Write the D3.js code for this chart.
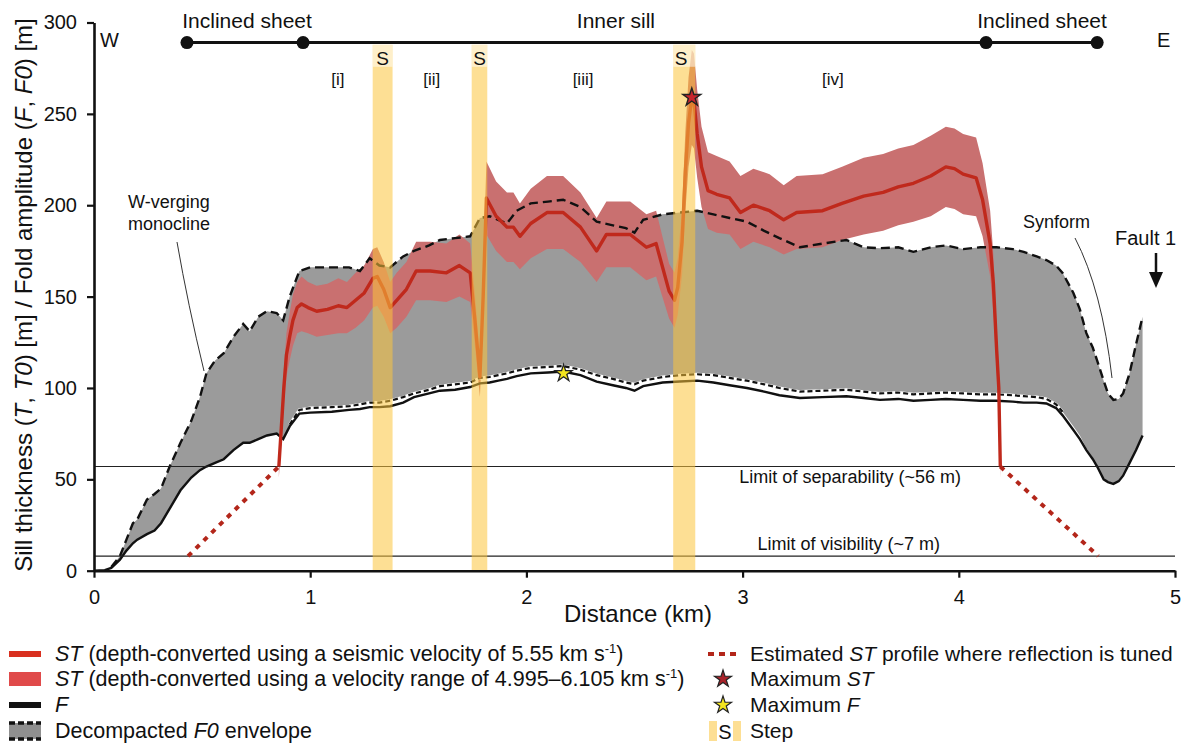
<!DOCTYPE html>
<html>
<head>
<meta charset="utf-8">
<script src="https://cdn.jsdelivr.net/npm/d3@7"></script>
<style>
  body { margin: 0; background: #fff; }
  svg text { font-family: "Liberation Sans", Arial, sans-serif; fill: #111; }
</style>
</head>
<body>
<svg id="chart" width="1184" height="745"></svg>
<script>
// ---- data (distance in km, thickness / amplitude in m) ----
const distF = [0, 0.05, 0.08, 0.12, 0.15, 0.18, 0.20, 0.245, 0.28, 0.31, 0.35, 0.40, 0.45, 0.49, 0.52, 0.56, 0.60, 0.645, 0.69, 0.72,
  0.76, 0.80, 0.845, 0.875, 0.905, 0.95, 1.00, 1.10, 1.18, 1.23, 1.275, 1.32, 1.37, 1.43, 1.48, 1.55, 1.60, 1.67, 1.74, 1.785,
  1.83, 1.87, 1.91, 1.955, 2.02, 2.10, 2.17, 2.25, 2.325, 2.40, 2.46, 2.50, 2.54, 2.63, 2.71, 2.79, 2.865, 2.94, 3.02, 3.10,
  3.17, 3.265, 3.37, 3.48, 3.56, 3.635, 3.72, 3.79, 3.87, 3.94, 4.02, 4.10, 4.175, 4.25, 4.30, 4.36, 4.405, 4.45, 4.48, 4.53,
  4.56, 4.59, 4.62, 4.64, 4.67, 4.69, 4.715, 4.74, 4.76, 4.79, 4.82, 4.85];
const f0Upper = [0, 0.5, 2, 8, 17, 26, 28, 39, 42, 45, 57, 70, 82, 95, 108, 115, 119, 128, 135, 131,
  139, 142, 141, 137, 150, 164, 166, 166, 166, 164, 171, 167, 166, 172, 175, 178, 181, 182, 183, 193,
  194, 192, 190, 197, 201, 202, 203, 199, 191, 189, 187.5, 185, 192, 195, 196, 197, 195, 193, 191, 186,
  182, 177, 179, 181, 177, 176.5, 177, 174.5, 177, 178, 176, 177, 177, 176, 174.5, 172, 170, 167, 163, 152,
  143, 130, 122, 115, 104, 97, 93.5, 94, 97, 108, 124, 139];
const f0Lower = [0, 0.3, 1.5, 6, 11, 15, 17, 20, 22, 26, 34, 44, 51, 55, 57, 59, 61, 66, 70, 70,
  72, 74, 75, 72, 80, 88, 89, 89.5, 90, 91, 92, 92, 93, 95, 97, 99, 101, 102, 103, 105.5,
  106, 107, 108, 109.5, 111, 111.5, 112, 110, 107, 105, 103, 102, 104, 106, 107, 107.5, 107, 105.5, 104, 102,
  100, 98, 98.5, 99, 98, 97, 97.5, 96.5, 97, 97.5, 97, 96.5, 96.5, 96, 95.5, 95, 94, 91, 87, 79,
  74, 67, 62, 58, 51, 49, 48, 49, 52, 59, 66, 74];
const fAmp = [0, 0.3, 1.5, 6, 11, 15, 17, 20, 22, 26, 34, 44, 51, 55, 57, 59, 61, 66, 70, 70,
  72, 74, 75, 72, 79, 86, 86.5, 87, 88, 88.5, 89.5, 89.5, 90, 92, 95, 97, 98.5, 99, 100.5, 102.5,
  103, 104, 105, 106.5, 108, 108.5, 109, 107, 103.5, 101.5, 100, 98.5, 101, 103, 103.5, 104, 103, 101.5, 100, 98,
  96, 94.5, 95, 95.5, 94.5, 93.5, 94, 93, 93.5, 94, 93.5, 93, 93, 92.5, 92, 92, 91.5, 89, 85, 77,
  72, 66, 61, 57, 50, 48.5, 47.5, 49, 52, 59, 66, 74];

const distST = [0.855, 0.862, 0.870, 0.878, 0.890, 0.905, 0.920, 0.940, 0.960, 0.990, 1.030, 1.080, 1.130, 1.170, 1.210, 1.250,
  1.290, 1.310, 1.340, 1.370, 1.400, 1.445, 1.490, 1.555, 1.630, 1.690, 1.740, 1.762, 1.785, 1.800, 1.815, 1.860,
  1.910, 1.940, 1.970, 2.020, 2.095, 2.170, 2.250, 2.325, 2.370, 2.480, 2.555, 2.600, 2.660, 2.685, 2.700, 2.720,
  2.735, 2.750, 2.765, 2.775, 2.790, 2.810, 2.840, 2.880, 2.940, 2.990, 3.050, 3.125, 3.190, 3.250, 3.370, 3.460,
  3.560, 3.650, 3.720, 3.790, 3.870, 3.940, 3.980, 4.020, 4.080, 4.110, 4.145, 4.160, 4.175, 4.185, 4.192];
const stMid = [57, 70, 85, 100, 118, 128, 137, 144, 146, 144, 142, 143, 145, 144, 148, 152,
  160, 161, 154, 144, 148, 154, 164, 164, 163, 167, 163, 137, 106, 150, 204, 194,
  188, 188, 183, 190, 196, 196, 188, 175, 184, 184, 177, 179, 153, 148, 155, 180,
  218, 245, 259, 257, 239, 221, 208, 206, 204, 196, 200, 197, 192, 196, 197, 201,
  205, 207, 210, 212, 216, 221, 220, 217, 215, 203, 179, 157, 121, 100, 57];
const stLow = [51, 63, 76, 90, 106, 115, 123, 130, 131, 130, 128, 129, 130, 130, 133, 137,
  144, 145, 139, 130, 133, 139, 148, 148, 147, 150, 147, 123, 95, 135, 184, 175,
  169, 169, 165, 171, 176, 176, 169, 158, 166, 166, 159, 161, 138, 133, 140, 162,
  196, 221, 233, 231, 215, 199, 187, 185, 184, 176, 180, 177, 173, 176, 177, 181,
  184, 186, 189, 191, 194, 199, 198, 195, 194, 183, 161, 141, 109, 90, 51];
const stHigh = [63, 77, 94, 110, 130, 141, 151, 158, 161, 158, 156, 157, 160, 158, 163, 167,
  176, 177, 169, 158, 163, 169, 180, 180, 179, 184, 179, 151, 117, 165, 224, 213,
  207, 207, 201, 209, 216, 216, 207, 193, 202, 202, 195, 197, 168, 163, 171, 198,
  240, 270, 285, 283, 263, 243, 229, 227, 224, 216, 220, 217, 211, 216, 217, 221,
  226, 228, 231, 233, 238, 243, 242, 239, 237, 223, 197, 173, 133, 110, 63];

const tunedWest = [[0.435, 8], [0.855, 57]];
const tunedEast = [[4.192, 57], [4.645, 8]];
const stepStart = [1.289, 1.747, 2.679];
const stepEnd = [1.381, 1.819, 2.781];
const segmentLabels = ["[i]", "[ii]", "[iii]", "[iv]"];
const segmentX = [1.128, 1.562, 2.262, 3.418];
const sheetNodes = [0.43, 0.967, 4.126, 4.64];
const sheetLabels = ["Inclined sheet", "Inner sill", "Inclined sheet"];
const sheetLabelX = [0.708, 2.414, 4.385];
const limitSeparability = 57;
const limitVisibility = 8;
const maxST = [2.765, 259];
const maxF = [2.172, 108];
const xTicks = [0, 1, 2, 3, 4, 5];
const yTicks = [0, 50, 100, 150, 200, 250, 300];

const svg = d3.select("#chart");
svg.append("rect").attr("width", 1184).attr("height", 745).attr("fill", "#fff");

const x = d3.scaleLinear().domain([0, 5]).range([94, 1175]);
const y = d3.scaleLinear().domain([0, 300]).range([570.7, 22.5]);

const red = "#c0291c";
const idxF = distF.map((d, i) => i);
const idxST = distST.map((d, i) => i);

// F0 envelope (gray)
svg.append("path")
  .datum(idxF)
  .attr("fill", "#9b9b9b")
  .attr("d", d3.area()
    .x((i) => x(distF[i]))
    .y0((i) => y(f0Lower[i]))
    .y1((i) => y(f0Upper[i])));

// ST velocity range
svg.append("path")
  .datum(idxST)
  .attr("fill", "#c97070")
  .attr("d", d3.area()
    .x((i) => x(distST[i]))
    .y0((i) => y(stLow[i]))
    .y1((i) => y(stHigh[i])));

// upper F0 dashed
svg.append("path")
  .datum(idxF.filter((i) => distF[i] >= 0.08))
  .attr("fill", "none")
  .attr("stroke", "#111")
  .attr("stroke-width", 2.4)
  .attr("stroke-dasharray", "9,5")
  .attr("d", d3.line().x((i) => x(distF[i])).y((i) => y(f0Upper[i])));

// lower F0 dashed (white backed)
const lowerIdx = idxF.filter((i) => distF[i] >= 0.88 && distF[i] <= 4.48);
const lowerLine = d3.line().x((i) => x(distF[i])).y((i) => y(f0Lower[i]));
svg.append("path").datum(lowerIdx).attr("fill", "none")
  .attr("stroke", "#fff").attr("stroke-width", 3).attr("d", lowerLine);
svg.append("path").datum(lowerIdx).attr("fill", "none")
  .attr("stroke", "#111").attr("stroke-width", 2.2)
  .attr("stroke-dasharray", "5,3").attr("d", lowerLine);

// F
svg.append("path")
  .datum(idxF)
  .attr("fill", "none")
  .attr("stroke", "#111")
  .attr("stroke-width", 2.4)
  .attr("d", d3.line().x((i) => x(distF[i])).y((i) => y(fAmp[i])));

// limit lines
[limitSeparability, limitVisibility].forEach((v) => {
  svg.append("line")
    .attr("x1", x(0)).attr("x2", x(5))
    .attr("y1", y(v)).attr("y2", y(v))
    .attr("stroke", "#222").attr("stroke-width", 1.1);
});
svg.append("text").attr("x", x(4.01)).attr("y", y(48))
  .attr("text-anchor", "end").attr("font-size", 18).attr("fill", "#222")
  .text("Limit of separability (~56 m)");
svg.append("text").attr("x", x(3.913)).attr("y", y(11.3))
  .attr("text-anchor", "end").attr("font-size", 18).attr("fill", "#222")
  .text("Limit of visibility (~7 m)");

// ST line
svg.append("path")
  .datum(idxST)
  .attr("fill", "none")
  .attr("stroke", red)
  .attr("stroke-width", 3.4)
  .attr("stroke-linejoin", "round")
  .attr("d", d3.line().x((i) => x(distST[i])).y((i) => y(stMid[i])));

// tuned estimates
[tunedWest, tunedEast].forEach((seg) => {
  svg.append("path")
    .datum(seg)
    .attr("fill", "none")
    .attr("stroke", "#b3261a")
    .attr("stroke-width", 4)
    .attr("stroke-dasharray", "5,6")
    .attr("d", d3.line().x((d) => x(d[0])).y((d) => y(d[1])));
});

// steps
stepStart.forEach((s, k) => {
  svg.append("rect")
    .attr("x", x(s)).attr("width", x(stepEnd[k]) - x(s))
    .attr("y", y(287.8)).attr("height", y(0) - y(287.8))
    .attr("fill", "rgb(252,196,60)").attr("fill-opacity", 0.55);
  svg.append("rect")
    .attr("x", x(s)).attr("width", x(stepEnd[k]) - x(s))
    .attr("y", y(287.8)).attr("height", 22)
    .attr("fill", "#fff").attr("fill-opacity", 0.5);
  svg.append("text")
    .attr("x", k === 2 ? x(s) + 8 : (x(s) + x(stepEnd[k])) / 2)
    .attr("y", y(276.5))
    .attr("text-anchor", "middle")
    .attr("font-size", 19)
    .text("S");
});

// stars
const star = d3.symbol().type(d3.symbolStar);
svg.append("path").attr("d", star.size(100)())
  .attr("transform", `translate(${x(maxST[0])},${y(maxST[1])})`)
  .attr("fill", "#c8232c").attr("stroke", "#222").attr("stroke-width", 1.4);
svg.append("path").attr("d", star.size(90)())
  .attr("transform", `translate(${x(maxF[0])},${y(maxF[1])})`)
  .attr("fill", "#f4e51e").attr("stroke", "#222").attr("stroke-width", 1.3);

// top sheet bar
svg.append("line")
  .attr("x1", x(sheetNodes[0])).attr("x2", x(sheetNodes[3]))
  .attr("y1", y(289)).attr("y2", y(289))
  .attr("stroke", "#111").attr("stroke-width", 3);
svg.selectAll(".node").data(sheetNodes).enter().append("circle")
  .attr("cx", (d) => x(d)).attr("cy", y(289)).attr("r", 6.5).attr("fill", "#111");
svg.selectAll(".sheetLabel").data(sheetLabels).enter().append("text")
  .attr("x", (d, i) => x(sheetLabelX[i])).attr("y", 28)
  .attr("text-anchor", "middle").attr("font-size", 21)
  .text((d) => d);
svg.selectAll(".seg").data(segmentLabels).enter().append("text")
  .attr("x", (d, i) => x(segmentX[i])).attr("y", 85)
  .attr("text-anchor", "middle").attr("font-size", 17).attr("fill", "#333")
  .text((d) => d);
svg.append("text").attr("x", 100).attr("y", 47).attr("font-size", 20).text("W");
svg.append("text").attr("x", 1157).attr("y", 47).attr("font-size", 20).text("E");

// annotations
svg.append("text").attr("x", 128).attr("y", 208).attr("font-size", 18).attr("fill", "#333").text("W-verging");
svg.append("text").attr("x", 128).attr("y", 230).attr("font-size", 18).attr("fill", "#333").text("monocline");
svg.append("path").attr("d", "M177,242 Q188,305 204,371")
  .attr("fill", "none").attr("stroke", "#333").attr("stroke-width", 1);
svg.append("text").attr("x", 1023).attr("y", 228).attr("font-size", 18).attr("fill", "#333").text("Synform");
svg.append("path").attr("d", "M1075,238 Q1102,290 1112,378")
  .attr("fill", "none").attr("stroke", "#333").attr("stroke-width", 1);
svg.append("text").attr("x", 1115).attr("y", 245).attr("font-size", 20).text("Fault 1");
svg.append("line").attr("x1", 1156).attr("x2", 1156).attr("y1", 253).attr("y2", 275)
  .attr("stroke", "#111").attr("stroke-width", 2.5);
svg.append("path").attr("d", "M1149,272 L1163,272 L1156,288 Z").attr("fill", "#111");

// axes
const xAxis = svg.append("g")
  .attr("transform", `translate(0,${y(0)})`)
  .call(d3.axisBottom(x).tickValues(xTicks).tickFormat(d3.format("d")).tickSize(7).tickSizeOuter(0).tickPadding(12));
const yAxis = svg.append("g")
  .attr("transform", `translate(${x(0)},0)`)
  .call(d3.axisLeft(y).tickValues(yTicks).tickSize(7).tickSizeOuter(0).tickPadding(10));
[xAxis, yAxis].forEach((g) => {
  g.select(".domain").attr("stroke", "#111").attr("stroke-width", 2.6);
  g.selectAll(".tick line").attr("stroke", "#111").attr("stroke-width", 2.2);
  g.selectAll(".tick text").attr("font-size", 20).attr("fill", "#111")
    .attr("font-family", '"Liberation Sans", Arial, sans-serif');
});

svg.append("text").attr("x", 638).attr("y", 622).attr("text-anchor", "middle")
  .attr("font-size", 24).text("Distance (km)");

const ylab = svg.append("text")
  .attr("transform", "translate(32,295) rotate(-90)")
  .attr("text-anchor", "middle").attr("font-size", 24);
[["Sill thickness (", false], ["T", true], [", ", false], ["T0", true], [") [m] / Fold amplitude (", false],
 ["F", true], [", ", false], ["F0", true], [") [m]", false]].forEach(([t, it]) => {
  ylab.append("tspan").attr("font-style", it ? "italic" : null).text(t);
});

// legend
const lg = svg.append("g");
const rows = [654, 679, 705, 731];
lg.append("rect").attr("x", 9).attr("y", rows[0] - 3).attr("width", 32).attr("height", 6).attr("fill", "#d9301f");
lg.append("rect").attr("x", 9).attr("y", rows[1] - 7).attr("width", 32).attr("height", 14).attr("fill", "#e04a4a");
lg.append("rect").attr("x", 9).attr("y", rows[2] - 3).attr("width", 32).attr("height", 6).attr("fill", "#111");
lg.append("rect").attr("x", 9).attr("y", rows[3] - 8).attr("width", 32).attr("height", 16).attr("fill", "#8f8f8f");
[rows[3] - 8, rows[3] + 8].forEach((yy) => {
  lg.append("line").attr("x1", 9).attr("x2", 41).attr("y1", yy).attr("y2", yy)
    .attr("stroke", "#111").attr("stroke-width", 3.5).attr("stroke-dasharray", "6,3");
});

function legendText(xx, yy, parts, size) {
  const t = lg.append("text").attr("x", xx).attr("y", yy + 7).attr("font-size", size).attr("fill", "#222");
  parts.forEach(([s, style]) => {
    const sp = t.append("tspan").text(s);
    if (style === "i") sp.attr("font-style", "italic");
    if (style === "sup") sp.attr("font-size", 13).attr("dy", -8);
    if (style === "after") sp.attr("dy", 8);
  });
}
legendText(55, rows[0], [["ST", "i"], [" (depth-converted using a seismic velocity of 5.55 km s"], ["-1", "sup"], [")", "after"]], 21.5);
legendText(55, rows[1], [["ST", "i"], [" (depth-converted using a velocity range of 4.995\u20136.105 km s"], ["-1", "sup"], [")", "after"]], 21.5);
legendText(55, rows[2], [["F", "i"]], 21.5);
legendText(55, rows[3], [["Decompacted "], ["F0", "i"], [" envelope"]], 21.5);

lg.append("line").attr("x1", 708).attr("x2", 740).attr("y1", rows[0]).attr("y2", rows[0])
  .attr("stroke", "#b3261a").attr("stroke-width", 4).attr("stroke-dasharray", "6,5");
lg.append("path").attr("d", d3.symbol().type(d3.symbolStar).size(90)())
  .attr("transform", `translate(723,${rows[1]})`).attr("fill", "#a8232a").attr("stroke", "#222").attr("stroke-width", 1.2);
lg.append("path").attr("d", d3.symbol().type(d3.symbolStar).size(90)())
  .attr("transform", `translate(723,${rows[2]})`).attr("fill", "#f4e51e").attr("stroke", "#222").attr("stroke-width", 1.2);
[[709, 8], [733, 8]].forEach(([bx, bw]) => {
  lg.append("rect").attr("x", bx).attr("y", rows[3] - 10).attr("width", bw).attr("height", 20)
    .attr("fill", "rgb(252,196,60)").attr("fill-opacity", 0.55);
});
lg.append("text").attr("x", 725).attr("y", rows[3] + 8).attr("text-anchor", "middle").attr("font-size", 20).text("S");
legendText(750, rows[0], [["Estimated "], ["ST", "i"], [" profile where reflection is tuned"]], 21);
legendText(750, rows[1], [["Maximum "], ["ST", "i"]], 21);
legendText(750, rows[2], [["Maximum "], ["F", "i"]], 21);
legendText(750, rows[3], [["Step"]], 21);
</script>
</body>
</html>
